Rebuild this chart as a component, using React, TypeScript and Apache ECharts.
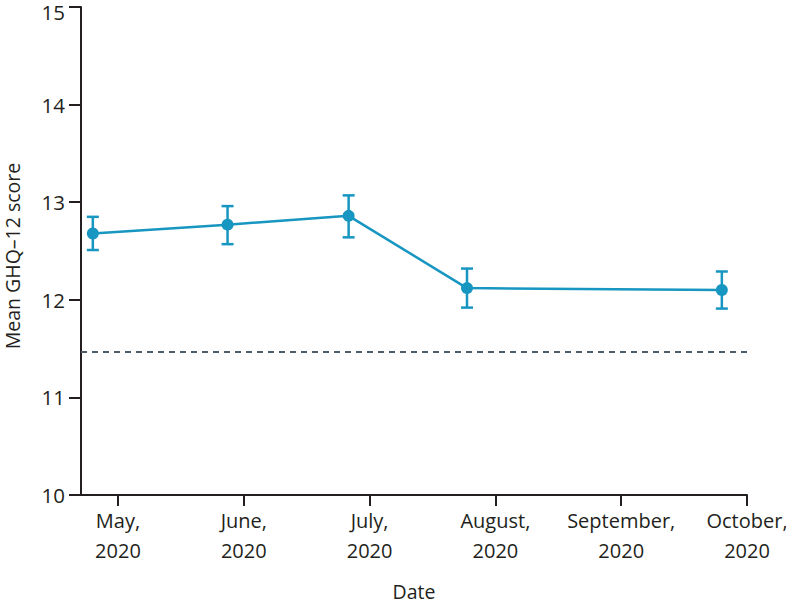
import React, { useEffect, useRef } from "react";
import * as echarts from "echarts";

// Survey dates (each point's position along the monthly axis)
const surveyDates = ["2020-04-25", "2020-05-28", "2020-06-26", "2020-07-25", "2020-09-25"];
// Mean GHQ-12 score and 95% CI
const meanScores = [12.68, 12.77, 12.86, 12.12, 12.1];
const lowerCI = [12.51, 12.57, 12.64, 11.92, 11.91];
const upperCI = [12.85, 12.96, 13.07, 12.32, 12.29];
// Pre-pandemic reference level
const referenceLevel = 11.47;
// Axis tick labels (month starts, May=0 ... October=5)
const monthTickLabels = ["May,\n2020", "June,\n2020", "July,\n2020", "August,\n2020", "September,\n2020", "October,\n2020"];
const monthTickValues = [0, 1, 2, 3, 4, 5];

const FONT = "'Open Sans', 'Noto Sans', sans-serif";
const BLUE = "#1796c1";
const INK = "#231f20";

// convert a date to a fractional month index with May 2020 = 0
function monthIndex(d: string): number {
  const [y, m, day] = d.split("-").map(Number);
  const daysInMonth = new Date(y, m, 0).getDate();
  return (y - 2020) * 12 + (m - 5) + (day - 1) / daysInMonth;
}

export default function App() {
  const ref = useRef<HTMLDivElement>(null);
  useEffect(() => {
    if (!ref.current) return;
    const chart = echarts.init(ref.current, undefined, { renderer: "svg" });
    const xs = surveyDates.map(monthIndex);
    const lineData = xs.map((x, i) => [x, meanScores[i]]);
    const errData = xs.map((x, i) => [x, lowerCI[i], upperCI[i]]);
    chart.setOption({
      animation: false,
      backgroundColor: "#ffffff",
      grid: { left: 81, right: 39, top: 7, bottom: 108, containLabel: false, outerBoundsMode: "none" },
      xAxis: {
        type: "value",
        min: -0.294,
        max: 5,
        name: "Date",
        nameLocation: "middle",
        nameGap: 86,
        nameTextStyle: { fontFamily: FONT, fontSize: 19.5, color: INK },
        axisLine: { show: true, onZero: false, lineStyle: { color: INK, width: 2 } },
        axisTick: { show: true, customValues: monthTickValues, length: 11, inside: false, lineStyle: { color: INK, width: 2 } },
        axisLabel: {
          customValues: monthTickValues,
          formatter: (v: number) => monthTickLabels[Math.round(v)] ?? "",
          fontFamily: FONT,
          fontSize: 20,
          lineHeight: 30,
          color: INK,
          margin: 10,
        },
        splitLine: { show: false },
      },
      yAxis: {
        type: "value",
        min: 10,
        max: 15,
        interval: 1,
        name: "Mean GHQ–12 score",
        nameLocation: "middle",
        nameGap: 59,
        nameTextStyle: { fontFamily: FONT, fontSize: 19.5, color: INK, padding: [0, 10, 0, 0] },
        axisLine: { show: true, onZero: false, lineStyle: { color: INK, width: 2 } },
        axisTick: { show: true, length: 12, inside: false, lineStyle: { color: INK, width: 2 } },
        axisLabel: {
          fontFamily: FONT,
          fontSize: 20.5,
          color: INK,
          margin: 16,
          formatter: (v: number) => (v === 15 ? `{t|${v}}` : `${v}`),
          rich: { t: { fontFamily: FONT, fontSize: 20.5, color: INK, lineHeight: 4, padding: [10, 0, 0, 0] } },
        },
        splitLine: { show: false },
      },
      series: [
        {
          type: "custom",
          z: 2,
          data: errData,
          renderItem: (params: any, api: any) => {
            const x = api.value(0);
            const lo = api.coord([x, api.value(1)]);
            const hi = api.coord([x, api.value(2)]);
            const hw = 6;
            const style = { stroke: BLUE, lineWidth: 2.5, fill: "none" };
            return {
              type: "group",
              children: [
                { type: "line", shape: { x1: lo[0], y1: lo[1], x2: hi[0], y2: hi[1] }, style },
                { type: "line", shape: { x1: lo[0] - hw, y1: lo[1], x2: lo[0] + hw, y2: lo[1] }, style },
                { type: "line", shape: { x1: hi[0] - hw, y1: hi[1], x2: hi[0] + hw, y2: hi[1] }, style },
              ],
            };
          },
        },
        {
          type: "line",
          z: 3,
          data: lineData,
          symbol: "circle",
          symbolSize: 12,
          itemStyle: { color: BLUE },
          lineStyle: { color: BLUE, width: 2.5 },
          markLine: {
            silent: true,
            symbol: "none",
            label: { show: false },
            lineStyle: { color: "#4d5d69", type: [6, 5], width: 2 },
            data: [{ yAxis: referenceLevel }],
          },
        },
      ],
    });
    return () => chart.dispose();
  }, []);
  return <div ref={ref} style={{ position: "fixed", left: 0, top: 0, width: 786, height: 603 }} />;
}
